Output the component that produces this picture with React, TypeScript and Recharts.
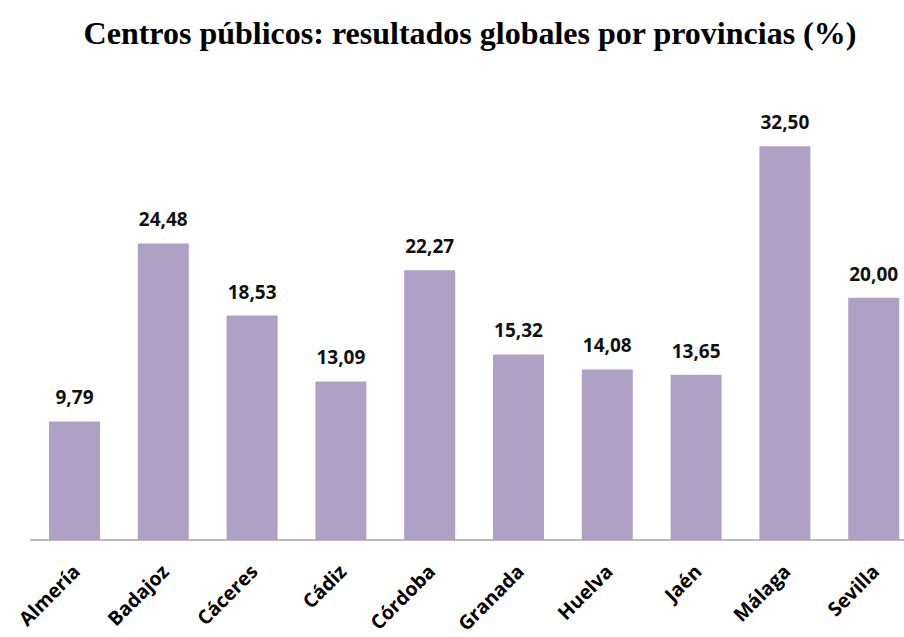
import { BarChart, Bar, XAxis, YAxis, LabelList } from 'recharts';

const provincias = ['Almería', 'Badajoz', 'Cáceres', 'Cádiz', 'Córdoba', 'Granada', 'Huelva', 'Jaén', 'Málaga', 'Sevilla'];
const resultados = [9.79, 24.48, 18.53, 13.09, 22.27, 15.32, 14.08, 13.65, 32.5, 20.0];

const data = provincias.map((p, i) => ({ provincia: p, valor: resultados[i] }));

const FONT = '"Open Sans", "Liberation Sans", sans-serif';

const fmt = (v: any) => Number(v).toFixed(2).replace('.', ',');

function ProvTick({ x, y, payload }: any) {
  return (
    <text
      transform={`translate(${x + 7},${y + 25}) rotate(-45)`}
      textAnchor="end"
      fontFamily={FONT}
      fontWeight="bold"
      fontSize={19.5}
      fill="#000"
    >
      {payload.value}
    </text>
  );
}

export default function App() {
  return (
    <div style={{ position: 'absolute', left: 0, top: 0, width: 904, height: 637, overflow: 'hidden', background: '#fff' }}>
      <div
        style={{
          position: 'absolute',
          top: 15,
          left: 0,
          width: 940,
          textAlign: 'center',
          fontFamily: '"Liberation Serif", serif',
          fontWeight: 'bold',
          fontSize: 32,
        }}
      >
        Centros públicos: resultados globales por provincias (%)
      </div>
      <BarChart
        width={920}
        height={637}
        data={data}
        margin={{ top: 116, right: 2, left: 30, bottom: 0 }}
        barSize={51}
      >
        <XAxis
          dataKey="provincia"
          axisLine={{ stroke: '#a6a6a6', strokeWidth: 1.5 }}
          tickLine={false}
          tick={<ProvTick />}
          interval={0}
          height={97}
        />
        <YAxis hide domain={[0, 35]} />
        <Bar dataKey="valor" fill="#afa0c5" isAnimationActive={false}>
          <LabelList
            dataKey="valor"
            position="top"
            offset={17}
            formatter={fmt}
            style={{ fontFamily: FONT, fontWeight: 'bold', fontSize: 19, fill: '#111' }}
          />
        </Bar>
      </BarChart>
    </div>
  );
}
